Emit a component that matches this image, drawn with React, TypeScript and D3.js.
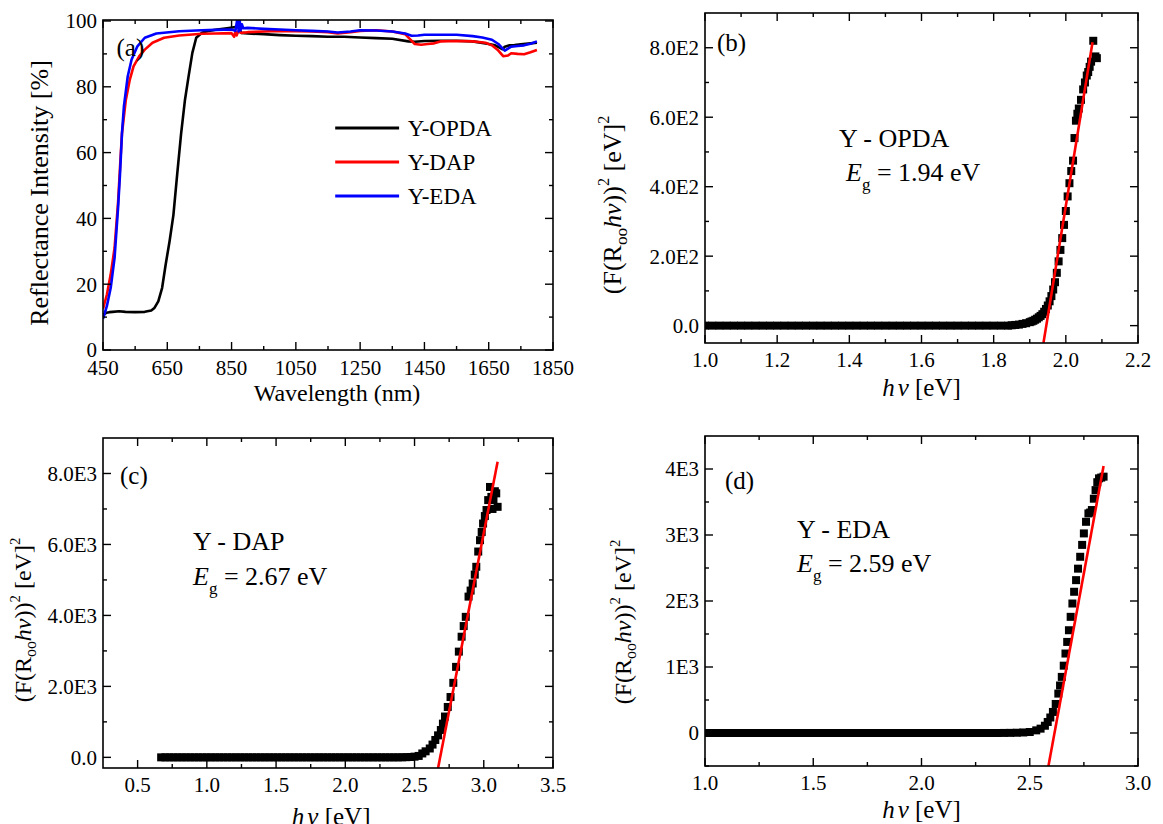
import React from "react";
import * as d3 from "d3";

const FONT = "'Liberation Serif', 'Times New Roman', Times, serif";

// ---------- Panel (a): reflectance spectra ----------
const opdaWl = [450,460,470,480,500,520,550,580,600,610,622,634,645,657,669,681,693,705,716,728,740,758,780,805,830,852,866,870,874,880,900,950,1000,1050,1100,1150,1200,1250,1300,1350,1400,1420,1450,1500,1550,1600,1620,1650,1670,1685,1693,1700,1715,1730,1750,1780,1800];
const opdaR = [10.7,11.3,11.5,11.6,11.8,11.6,11.5,11.6,12.0,12.8,14.8,18.9,26,33,41,53.6,65.8,76,83,90.3,94.9,96.4,97.0,97.4,97.7,98.0,98.2,98.6,97.6,96.4,96.2,96.0,95.7,95.5,95.4,95.2,95.2,95.0,94.8,94.6,93.8,93.7,93.9,94.0,94.0,93.8,93.5,93.0,92.6,91.8,91.4,92.2,92.6,92.7,92.9,93.2,93.4];
const dapWl = [450,462,474,486,497,503,509,521,533,545,563,580,604,640,687,758,800,850,858,862,866,870,880,900,950,1000,1050,1100,1150,1180,1220,1250,1300,1350,1390,1405,1420,1440,1460,1480,1500,1550,1600,1640,1660,1680,1695,1710,1720,1740,1760,1780,1800];
const dapR = [12.5,16.8,23,31,45,55.6,65.8,76,82,86.2,89.3,91.3,93.4,94.9,95.6,96.1,96.2,96.3,95.2,96.8,95.6,96.8,96.4,96.6,96.8,97.0,96.9,96.8,96.6,96.2,96.6,97.0,97.2,96.8,96.0,94.5,93.0,92.8,93.0,93.2,93.8,93.9,93.8,93.4,92.6,91.0,89.3,89.5,90.2,90.0,89.9,90.5,91.2];
const edaWl = [450,462,474,486,497,503,509,515,527,539,557,580,616,687,758,800,850,862,866,869,872,875,878,882,886,900,950,1000,1050,1100,1150,1180,1220,1250,1300,1350,1390,1410,1430,1450,1500,1550,1600,1630,1660,1680,1690,1700,1710,1720,1740,1760,1780,1800];
const edaR = [9.5,13.3,18.9,28,43.4,53.6,65.8,74,83.2,88.3,92.3,94.9,96.2,96.9,97.2,97.3,97.4,97.0,99.5,101,96.8,100.5,97.2,99.0,97.8,97.9,97.6,97.4,97.2,97.0,96.8,96.5,96.8,97.2,97.1,96.8,96.2,95.5,95.6,95.8,95.8,95.8,95.4,95.0,94.3,93.0,92.0,91.0,91.6,92.2,92.4,92.6,93.1,93.8];
const seriesNames = ["Y-OPDA", "Y-DAP", "Y-EDA"];
const seriesColors = ["#000000", "#ff0000", "#0000ff"];
const aXTicks = [450,650,850,1050,1250,1450,1650,1850];
const aXMinor = [550,750,950,1150,1350,1550,1750];
const aYTicks = [0,20,40,60,80,100];
const aYMinor = [10,30,50,70,90];

// ---------- Panel (b): Y-OPDA ----------
const bEnergy = [1.00,1.02,1.04,1.06,1.08,1.10,1.12,1.14,1.16,1.18,1.20,1.22,1.24,1.26,1.28,1.30,1.32,1.34,1.36,1.38,1.40,1.42,1.44,1.46,1.48,1.50,1.52,1.54,1.56,1.58,1.60,1.62,1.64,1.66,1.68,1.70,1.72,1.74,1.76,1.78,1.80,1.82,1.84,
  1.85,1.86,1.87,1.88,1.89,1.90,1.905,1.91,1.915,1.92,1.925,1.93,1.935,1.94,1.945,1.95,1.955,1.96,1.965,1.97,1.975,1.98,1.985,1.99,1.995,2.00,2.005,2.01,2.015,2.02,2.024,2.028,2.032,2.036,2.042,2.048,2.053,2.058,2.062,2.066,2.07,2.076,2.082,2.086];
const bValue = [0,0,0,0,0,0,0,0,0,0,0,0,0,0,0,0,0,0,0,0,0,0,0,0,0,0,0,0,0,0,0,0,0,0,0,0,0,0,0,0,0,0,0,
  1,2,3,5,7,10,12,14,17,20,24,28,33,40,48,58,70,85,104,125,152,185,218,252,290,330,372,410,445,475,540,590,610,625,650,680,700,720,730,745,760,820,775,770];
const bFitE = [1.938, 2.074];
const bFitV = [-50, 816];
const bXTicks = [1.0,1.2,1.4,1.6,1.8,2.0,2.2];
const bXLabels = ["1.0","1.2","1.4","1.6","1.8","2.0","2.2"];
const bXMinor = [1.1,1.3,1.5,1.7,1.9,2.1];
const bYTicks = [0,200,400,600,800];
const bYLabels = ["0.0","2.0E2","4.0E2","6.0E2","8.0E2"];
const bYMinor = [100,300,500,700];

// ---------- Panel (c): Y-DAP ----------
const cEnergy = [0.67,0.70,0.73,0.76,0.79,0.82,0.85,0.88,0.91,0.94,0.97,1.00,1.03,1.06,1.09,1.12,1.15,1.18,1.21,1.24,1.27,1.30,1.33,1.36,1.39,1.42,1.45,1.48,1.51,1.54,1.57,1.60,1.63,1.66,1.69,1.72,1.75,1.78,1.81,1.84,1.87,1.90,1.93,1.96,1.99,2.02,2.05,2.08,2.11,2.14,2.17,2.20,2.23,2.26,2.29,2.32,2.35,2.38,2.41,2.44,2.47,2.50,
  2.53,2.556,2.58,2.61,2.63,2.65,2.67,2.69,2.705,2.72,2.74,2.76,2.78,2.80,2.82,2.84,2.855,2.87,2.89,2.905,2.92,2.935,2.946,2.96,2.973,2.985,2.995,3.008,3.02,3.032,3.045,3.055,3.063,3.07,3.08,3.09,3.10];
const cValue = [0,0,0,0,0,0,0,0,0,0,0,0,0,0,0,0,0,0,0,0,0,0,0,0,0,0,0,0,0,0,0,0,0,0,0,0,0,0,0,0,0,0,0,0,0,0,0,0,0,0,0,0,0,0,0,0,0,0,2,5,10,20,
  40,110,170,250,360,490,620,770,950,1150,1420,1700,2100,2550,2980,3400,3700,3960,4530,4700,4900,5150,5370,5800,6120,6350,6590,6800,6970,7250,7620,7340,7000,7250,7500,7440,7060];
const cFitE = [2.67, 3.10];
const cFitV = [-300, 8330];
const cXTicks = [0.5,1.0,1.5,2.0,2.5,3.0,3.5];
const cXLabels = ["0.5","1.0","1.5","2.0","2.5","3.0","3.5"];
const cXMinor = [0.75,1.25,1.75,2.25,2.75,3.25];
const cYTicks = [0,2000,4000,6000,8000];
const cYLabels = ["0.0","2.0E3","4.0E3","6.0E3","8.0E3"];
const cYMinor = [1000,3000,5000,7000];

// ---------- Panel (d): Y-EDA ----------
const dEnergy = [1.00,1.03,1.06,1.09,1.12,1.15,1.18,1.21,1.24,1.27,1.30,1.33,1.36,1.39,1.42,1.45,1.48,1.51,1.54,1.57,1.60,1.63,1.66,1.69,1.72,1.75,1.78,1.81,1.84,1.87,1.90,1.93,1.96,1.99,2.02,2.05,2.08,2.11,2.14,2.17,2.20,2.23,2.26,2.29,2.32,2.35,2.38,2.41,2.44,2.47,
  2.50,2.53,2.55,2.57,2.583,2.595,2.607,2.62,2.632,2.64,2.648,2.657,2.665,2.673,2.681,2.689,2.697,2.705,2.714,2.723,2.733,2.742,2.75,2.76,2.771,2.779,2.787,2.796,2.804,2.812,2.82,2.83,2.841];
const dValue = [0,0,0,0,0,0,0,0,0,0,0,0,0,0,0,0,0,0,0,0,0,0,0,0,0,0,0,0,0,0,0,0,0,0,0,0,0,0,0,0,0,0,0,0,0,0,1,2,4,8,
  15,40,66,110,167,235,319,440,597,720,850,1020,1204,1380,1557,1760,1962,2140,2316,2490,2670,2850,3024,3200,3327,3340,3378,3550,3680,3800,3858,3870,3884];
const dFitE = [2.586, 2.841];
const dFitV = [-506, 4045];
const dXTicks = [1.0,1.5,2.0,2.5,3.0];
const dXLabels = ["1.0","1.5","2.0","2.5","3.0"];
const dXMinor = [1.25,1.75,2.25,2.75];
const dYTicks = [0,1000,2000,3000,4000];
const dYLabels = ["0","1E3","2E3","3E3","4E3"];
const dYMinor = [-500,500,1500,2500,3500];

type Box = { L: number; R: number; T: number; B: number };

const TICK_FS = 21;

function Frame(props: {
  box: Box; x: any; y: any;
  xTicks: number[]; xLabels: string[]; xMinor: number[];
  yTicks: number[]; yLabels: string[]; yMinor: number[];
  xLabelDy: number;
}) {
  const { box, x, y } = props;
  const MJ = 8, MN = 4;
  const els: any[] = [];
  props.xTicks.forEach((t, i) => {
    const px = x(t);
    els.push(<line key={"xb" + i} x1={px} x2={px} y1={box.B} y2={box.B - MJ} stroke="#000" strokeWidth={1.4} />);
    els.push(<line key={"xt" + i} x1={px} x2={px} y1={box.T} y2={box.T + MJ} stroke="#000" strokeWidth={1.4} />);
    els.push(<text key={"xl" + i} x={px} y={box.B + props.xLabelDy} textAnchor="middle" fontSize={TICK_FS} fontFamily={FONT}>{props.xLabels[i]}</text>);
  });
  props.xMinor.forEach((t, i) => {
    const px = x(t);
    els.push(<line key={"xmb" + i} x1={px} x2={px} y1={box.B} y2={box.B - MN} stroke="#000" strokeWidth={1.4} />);
    els.push(<line key={"xmt" + i} x1={px} x2={px} y1={box.T} y2={box.T + MN} stroke="#000" strokeWidth={1.4} />);
  });
  props.yTicks.forEach((t, i) => {
    const py = y(t);
    els.push(<line key={"yl" + i} x1={box.L} x2={box.L + MJ} y1={py} y2={py} stroke="#000" strokeWidth={1.4} />);
    els.push(<line key={"yr" + i} x1={box.R} x2={box.R - MJ} y1={py} y2={py} stroke="#000" strokeWidth={1.4} />);
    els.push(<text key={"ylab" + i} x={box.L - 6} y={py} dy="0.35em" textAnchor="end" fontSize={TICK_FS} fontFamily={FONT}>{props.yLabels[i]}</text>);
  });
  props.yMinor.forEach((t, i) => {
    const py = y(t);
    els.push(<line key={"yml" + i} x1={box.L} x2={box.L + MN} y1={py} y2={py} stroke="#000" strokeWidth={1.4} />);
    els.push(<line key={"ymr" + i} x1={box.R} x2={box.R - MN} y1={py} y2={py} stroke="#000" strokeWidth={1.4} />);
  });
  return (
    <g>
      {els}
      <rect x={box.L} y={box.T} width={box.R - box.L} height={box.B - box.T} fill="none" stroke="#000" strokeWidth={1.6} />
    </g>
  );
}

function KMTitle(props: { cx: number; cy: number; fs: number }) {
  const fs = props.fs;
  return (
    <text transform={`translate(${props.cx},${props.cy}) rotate(-90)`} textAnchor="middle" fontSize={fs} fontFamily={FONT}>
      <tspan>(F(R</tspan>
      <tspan dy={fs * 0.22} fontSize={fs * 0.66}>oo</tspan>
      <tspan dy={-fs * 0.22} fontStyle="italic">hν</tspan>
      <tspan>))</tspan>
      <tspan dy={-fs * 0.45} fontSize={fs * 0.62}>2</tspan>
      <tspan dy={fs * 0.45}> [eV]</tspan>
      <tspan dy={-fs * 0.45} fontSize={fs * 0.62}>2</tspan>
    </text>
  );
}

function HvTitle(props: { cx: number; y: number }) {
  return (
    <text x={props.cx} y={props.y} textAnchor="middle" fontSize={25} fontFamily={FONT}>
      <tspan fontStyle="italic">h</tspan>
      <tspan fontStyle="italic" dx={3}>ν</tspan>
      <tspan> [eV]</tspan>
    </text>
  );
}

function Annot(props: { x: number; y1: number; y2: number; name: string; eg: string; ex?: number }) {
  return (
    <g fontFamily={FONT} fontSize={26}>
      <text x={props.x} y={props.y1}>{props.name}</text>
      <text x={props.ex ?? props.x} y={props.y2}>
        <tspan fontStyle="italic">E</tspan>
        <tspan dy={9} fontSize={17}>g</tspan>
        <tspan dy={-9}>{" = " + props.eg}</tspan>
      </text>
    </g>
  );
}

function TaucPanel(props: {
  id: string; box: Box; xDom: number[]; yDom: number[];
  energy: number[]; value: number[]; fitE: number[]; fitV: number[];
  xTicks: number[]; xLabels: string[]; xMinor: number[];
  yTicks: number[]; yLabels: string[]; yMinor: number[];
  letter: string; letterX: number; letterY: number;
  name: string; eg: string; annX: number; annY1: number; annY2: number; annEX?: number;
  yTitleX: number; yTitleY: number; yTitleFs: number; xTitleX: number; xTitleY: number; xLabelDy: number;
}) {
  const { box } = props;
  const x = d3.scaleLinear().domain(props.xDom).range([box.L, box.R]);
  const y = d3.scaleLinear().domain(props.yDom).range([box.B, box.T]);
  const S = 8;
  const clipId = "clip-" + props.id;
  return (
    <g>
      <defs>
        <clipPath id={clipId}>
          <rect x={box.L} y={box.T} width={box.R - box.L} height={box.B - box.T} />
        </clipPath>
      </defs>
      <g clipPath={`url(#${clipId})`}>
        {props.energy.map((e, i) => (
          <rect key={i} x={x(e) - S / 2} y={y(props.value[i]) - S / 2} width={S} height={S} fill="#000" />
        ))}
        <line x1={x(props.fitE[0])} y1={y(props.fitV[0])} x2={x(props.fitE[1])} y2={y(props.fitV[1])} stroke="#ff0000" strokeWidth={2.6} />
      </g>
      <Frame box={box} x={x} y={y} xTicks={props.xTicks} xLabels={props.xLabels} xMinor={props.xMinor}
        yTicks={props.yTicks} yLabels={props.yLabels} yMinor={props.yMinor} xLabelDy={props.xLabelDy} />
      <text x={props.letterX} y={props.letterY} dy="0.35em" fontSize={25} fontFamily={FONT}>{props.letter}</text>
      <Annot x={props.annX} y1={props.annY1} y2={props.annY2} ex={props.annEX} name={props.name} eg={props.eg} />
      <KMTitle cx={props.yTitleX} cy={props.yTitleY} fs={props.yTitleFs} />
      <HvTitle cx={props.xTitleX} y={props.xTitleY} />
    </g>
  );
}

function ReflectancePanel(props: { box: Box }) {
  const { box } = props;
  const W = box.R - box.L;
  const x = d3.scaleLinear().domain([450, 1850]).range([box.L, box.R]);
  const y = d3.scaleLinear().domain([0, 100.3]).range([box.B, box.T]);
  const line = d3.line<[number, number]>().x((d) => x(d[0])).y((d) => y(d[1]));
  const data = [
    opdaWl.map((w, i) => [w, opdaR[i]] as [number, number]),
    dapWl.map((w, i) => [w, dapR[i]] as [number, number]),
    edaWl.map((w, i) => [w, edaR[i]] as [number, number]),
  ];
  const legX1 = box.L + 0.516 * W;
  const legX2 = box.L + 0.658 * W;
  const legT = box.L + 0.677 * W;
  const rows = [box.T + 108, box.T + 142, box.T + 176];
  return (
    <g>
      <defs>
        <clipPath id="clip-a">
          <rect x={box.L} y={box.T} width={W} height={box.B - box.T} />
        </clipPath>
      </defs>
      <g clipPath="url(#clip-a)">
        {data.map((d, i) => (
          <path key={i} d={line(d) || ""} fill="none" stroke={seriesColors[i]} strokeWidth={2.6} strokeLinejoin="round" />
        ))}
      </g>
      <Frame box={box} x={x} y={y} xTicks={aXTicks} xLabels={aXTicks.map(String)} xMinor={aXMinor}
        yTicks={aYTicks} yLabels={aYTicks.map(String)} yMinor={aYMinor} xLabelDy={25} />
      {seriesNames.map((n, i) => (
        <g key={n}>
          <line x1={legX1} x2={legX2} y1={rows[i]} y2={rows[i]} stroke={seriesColors[i]} strokeWidth={3} />
          <text x={legT} y={rows[i]} dy="0.35em" fontSize={23} fontFamily={FONT}>{n}</text>
        </g>
      ))}
      <text x={box.L + 0.03 * W} y={box.T + 27} dy="0.35em" fontSize={25} fontFamily={FONT}>(a)</text>
      <text transform={`translate(${box.L - 55},${(box.T + box.B) / 2 + 8}) rotate(-90)`} textAnchor="middle" fontSize={26} fontFamily={FONT}>Reflectance Intensity [%]</text>
      <text x={box.L + 0.52 * W} y={box.B + 51} textAnchor="middle" fontSize={24} fontFamily={FONT}>Wavelength (nm)</text>
    </g>
  );
}

export default function App() {
  const A: Box = { L: 103, R: 553, T: 20, B: 350 };
  const Bb: Box = { L: 705, R: 1138, T: 13, B: 343 };
  const C: Box = { L: 103, R: 553, T: 438, B: 768 };
  const D: Box = { L: 705, R: 1138, T: 436, B: 766 };
  return (
    <svg width={1163} height={824} style={{ position: "absolute", left: 0, top: 0, background: "#fff" }}>
      <rect x={0} y={0} width={1163} height={824} fill="#fff" />
      <ReflectancePanel box={A} />
      <TaucPanel id="b" box={Bb} xDom={[1.0, 2.2]} yDom={[-50, 900]}
        energy={bEnergy} value={bValue} fitE={bFitE} fitV={bFitV}
        xTicks={bXTicks} xLabels={bXLabels} xMinor={bXMinor}
        yTicks={bYTicks} yLabels={bYLabels} yMinor={bYMinor}
        letter="(b)" letterX={Bb.L + 12} letterY={Bb.T + 29}
        name="Y - OPDA" eg="1.94 eV" annX={Bb.L + 134} annEX={Bb.L + 141} annY1={Bb.T + 134} annY2={Bb.T + 168}
        yTitleX={Bb.L - 84} yTitleY={205} yTitleFs={26} xTitleX={Bb.L + 0.5 * (Bb.R - Bb.L)} xTitleY={Bb.B + 53} xLabelDy={24} />
      <TaucPanel id="c" box={C} xDom={[0.25, 3.5]} yDom={[-300, 9000]}
        energy={cEnergy} value={cValue} fitE={cFitE} fitV={cFitV}
        xTicks={cXTicks} xLabels={cXLabels} xMinor={cXMinor}
        yTicks={cYTicks} yLabels={cYLabels} yMinor={cYMinor}
        letter="(c)" letterX={C.L + 17} letterY={C.T + 37}
        name="Y - DAP" eg="2.67 eV" annX={C.L + 90} annY1={C.T + 112} annY2={C.T + 147}
        yTitleX={C.L - 72} yTitleY={620} yTitleFs={24} xTitleX={C.L + 0.507 * (C.R - C.L)} xTitleY={C.B + 57} xLabelDy={24} />
      <TaucPanel id="d" box={D} xDom={[1.0, 3.0]} yDom={[-500, 4500]}
        energy={dEnergy} value={dValue} fitE={dFitE} fitV={dFitV}
        xTicks={dXTicks} xLabels={dXLabels} xMinor={dXMinor}
        yTicks={dYTicks} yLabels={dYLabels} yMinor={dYMinor}
        letter="(d)" letterX={D.L + 20} letterY={D.T + 44}
        name="Y - EDA" eg="2.59 eV" annX={D.L + 92} annY1={D.T + 102} annY2={D.T + 136}
        yTitleX={D.L - 74} yTitleY={622} yTitleFs={24} xTitleX={D.L + 0.5 * (D.R - D.L)} xTitleY={D.B + 52} xLabelDy={24} />
    </svg>
  );
}
